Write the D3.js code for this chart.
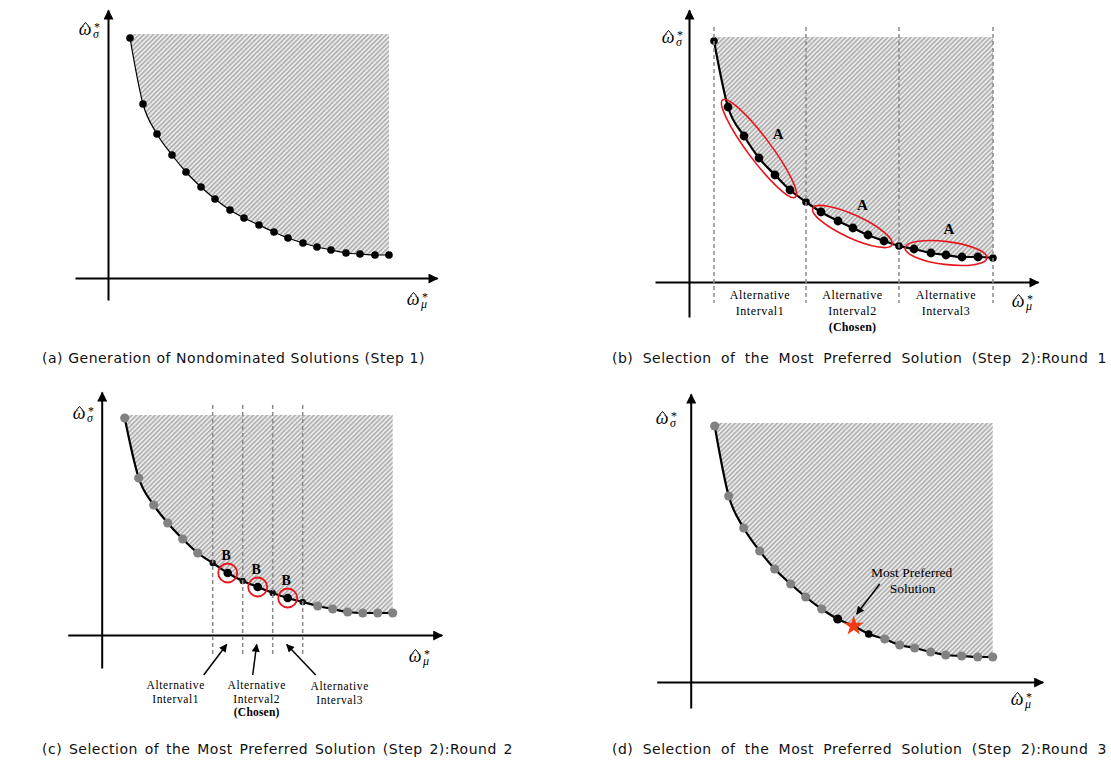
<!DOCTYPE html>
<html>
<head>
<meta charset="utf-8">
<script src="https://cdn.jsdelivr.net/npm/d3@7"></script>
<style>
  body { margin: 0; background: #fff; }
  svg { display: block; }
</style>
</head>
<body>
<div id="chart"></div>
<script>
// nondominated solutions (units from the axis origin)
var muA = [22, 35, 49, 64, 78, 93, 107, 122, 136, 151, 166, 180, 195, 209, 223, 238, 252, 267, 281];
var sigA = [240, 174, 144, 123, 106, 91, 79, 68, 60, 53, 46, 40, 35, 31, 28, 25, 24, 23, 23];

var muB = [25, 39, 55, 70, 86, 101, 117, 132, 149, 164, 179, 195, 210, 225, 242, 257, 273, 289, 304];
var sigB = [241, 175, 146, 124, 107, 92, 80, 70, 61, 54, 47, 41, 36, 33, 29, 27, 25, 25, 24];

var muC = [23, 37, 52, 66, 81, 96, 111, 126, 141, 156, 171, 186, 201, 216, 231, 246, 261, 276, 291];
var sigC = [217, 157, 130, 112, 96, 82, 72, 62, 54, 48, 42, 37, 33, 29, 26, 23, 22, 22, 22];

var muD = [24, 38, 53, 69, 84, 100, 115, 131, 147, 163, 178, 194, 209, 224, 240, 255, 271, 287, 302];
var sigD = [256, 186, 154, 131, 113, 98, 85, 73, 63, 56, 48, 43, 37, 34, 30, 27, 26, 25, 25];

// interval boundaries (point indices) and chosen points
var boundsB = [0, 6, 12, 18];
var groupsB = [[1, 5], [7, 11], [13, 17]];
var boundsC = [6, 8, 10, 12];
var pickedC = [7, 9, 11];
var pickedD = 9;

var intervalNames = ['Interval1', 'Interval2', 'Interval3'];
var chosenInterval = 1;

var captions = [
  '(a) Generation of Nondominated Solutions (Step 1)',
  '(b) Selection of the Most Preferred Solution (Step 2):Round 1',
  '(c) Selection of the Most Preferred Solution (Step 2):Round 2',
  '(d) Selection of the Most Preferred Solution (Step 2):Round 3'
];

var serif = "'Liberation Serif', 'Times New Roman', serif";
var grey = '#828282';
var red = '#e8141b';

var svg = d3.select('#chart').append('svg').attr('width', 1111).attr('height', 762);
var defs = svg.append('defs');

var pat = defs.append('pattern')
  .attr('id', 'hatch')
  .attr('patternUnits', 'userSpaceOnUse')
  .attr('width', 3.3)
  .attr('height', 3.3)
  .attr('patternTransform', 'rotate(45)');
pat.append('rect').attr('width', 3.3).attr('height', 3.3).attr('fill', '#e9e9e9');
pat.append('rect').attr('width', 1.5).attr('height', 3.3).attr('fill', '#adadad');

function marker(id, w, h) {
  defs.append('marker')
    .attr('id', id)
    .attr('viewBox', '0 0 10 10')
    .attr('refX', 9)
    .attr('refY', 5)
    .attr('markerUnits', 'userSpaceOnUse')
    .attr('markerWidth', w)
    .attr('markerHeight', h)
    .attr('orient', 'auto')
    .append('path')
    .attr('d', 'M0,0L10,5L0,10z')
    .attr('fill', '#000');
}
marker('axisHead', 13, 10);
marker('noteHead', 9, 8);

// omega with a drawn hat, subscript and star
function omegaLabel(cx, cy, sub) {
  svg.append('path')
    .attr('d', 'M' + (cx - 7.5) + ',' + (cy - 2) + 'L' + (cx - 4.5) + ',' + (cy - 5.5) + 'L' + (cx - 1.5) + ',' + (cy - 2))
    .attr('fill', 'none')
    .attr('stroke', '#000')
    .attr('stroke-width', 1);
  var t = svg.append('text').attr('font-family', serif);
  t.append('tspan').attr('x', cx - 5).attr('y', cy + 7).attr('text-anchor', 'middle')
    .attr('font-size', 18).attr('font-style', 'italic').text('ω');
  t.append('tspan').attr('x', cx + 3).attr('y', cy + 10).attr('text-anchor', 'start')
    .attr('font-size', 12).attr('font-style', 'italic').text(sub);
  t.append('tspan').attr('x', cx + 4).attr('y', cy + 3).attr('text-anchor', 'start')
    .attr('font-size', 12).text('*');
}

function panel(p, mu, sig) {
  var x = d3.scaleLinear().domain([0, 100]).range([p.ox, p.ox + 100]);
  var y = d3.scaleLinear().domain([0, 100]).range([p.oy, p.oy - 100]);
  var pts = mu.map((m, i) => [m, sig[i]]);
  var g = svg.append('g');

  // dominated region
  g.append('path')
    .attr('d', d3.area()
      .x((d) => x(d[0]))
      .y0(y(p.top))
      .y1((d) => y(d[1]))
      .curve(d3.curveMonotoneX)(pts))
    .attr('fill', 'url(#hatch)');

  // axes, no ticks
  var xs = d3.scaleLinear().domain(p.xr).range(p.xr.map(x));
  var ys = d3.scaleLinear().domain(p.yr).range(p.yr.map(y));
  g.append('g')
    .attr('transform', 'translate(0,' + y(0) + ')')
    .call(d3.axisBottom(xs).tickValues([]).tickSizeOuter(0))
    .select('.domain')
    .attr('stroke-width', 2)
    .attr('marker-end', 'url(#axisHead)');
  g.append('g')
    .attr('transform', 'translate(' + x(0) + ',0)')
    .call(d3.axisLeft(ys).tickValues([]).tickSizeOuter(0))
    .select('.domain')
    .attr('stroke-width', 2)
    .attr('marker-end', 'url(#axisHead)');

  g.append('path')
    .attr('d', d3.line()
      .x((d) => x(d[0]))
      .y((d) => y(d[1]))
      .curve(d3.curveMonotoneX)(pts))
    .attr('fill', 'none')
    .attr('stroke', '#000')
    .attr('stroke-width', p.lw);

  g.selectAll('circle.pt')
    .data(pts)
    .enter()
    .append('circle')
    .attr('class', 'pt')
    .attr('cx', (d) => x(d[0]))
    .attr('cy', (d) => y(d[1]))
    .attr('r', (d, i) => p.dot(i).r)
    .attr('fill', (d, i) => p.dot(i).c)
    .style('display', (d, i) => (p.dot(i).r ? null : 'none'));

  omegaLabel(p.sigLab[0], p.sigLab[1], 'σ');
  omegaLabel(p.muLab[0], p.muLab[1], 'μ');

  return { g: g, x: x, y: y, pts: pts };
}

// (a)
panel({
  ox: 108, oy: 278, top: 244, lw: 1.2,
  xr: [-33, 329], yr: [-22, 268],
  sigLab: [90, 28], muLab: [418, 298],
  dot: () => ({ r: 3.8, c: '#000' })
}, muA, sigA);

// (b)
var pb = panel({
  ox: 689, oy: 282, top: 245, lw: 2.2,
  xr: [-34, 349], yr: [-35, 272],
  sigLab: [673, 36], muLab: [1023, 300],
  dot: (i) => ({ r: boundsB.indexOf(i) >= 0 ? 3.8 : 4.4, c: '#000' })
}, muB, sigB);

boundsB.forEach((b) => {
  pb.g.append('line')
    .attr('x1', pb.x(muB[b])).attr('x2', pb.x(muB[b]))
    .attr('y1', pb.y(255)).attr('y2', pb.y(-21))
    .attr('stroke', '#8a8a8a')
    .attr('stroke-width', 1.5)
    .attr('stroke-dasharray', '4,3');
});

groupsB.forEach((gr) => {
  var a = [pb.x(muB[gr[0]]), pb.y(sigB[gr[0]])];
  var b = [pb.x(muB[gr[1]]), pb.y(sigB[gr[1]])];
  var cx = (a[0] + b[0]) / 2, cy = (a[1] + b[1]) / 2;
  var ang = Math.atan2(b[1] - a[1], b[0] - a[0]);
  var half = Math.hypot(b[0] - a[0], b[1] - a[1]) / 2;
  pb.g.append('ellipse')
    .attr('cx', cx).attr('cy', cy)
    .attr('rx', half + 9).attr('ry', 11.5)
    .attr('transform', 'rotate(' + (ang * 180 / Math.PI) + ',' + cx + ',' + cy + ')')
    .attr('fill', 'none')
    .attr('stroke', red)
    .attr('stroke-width', 1.6);
  pb.g.append('text')
    .attr('x', cx + Math.sin(ang) * 24)
    .attr('y', cy - Math.cos(ang) * 24 + 5)
    .attr('text-anchor', 'middle')
    .attr('font-family', serif)
    .attr('font-weight', 'bold')
    .attr('font-size', 15)
    .text('A');
});

intervalNames.forEach((name, i) => {
  var cx = (pb.x(muB[boundsB[i]]) + pb.x(muB[boundsB[i + 1]])) / 2;
  var t = pb.g.append('text')
    .attr('text-anchor', 'middle')
    .attr('font-family', serif)
    .attr('font-size', 12)
    .attr('letter-spacing', 0.6);
  t.append('tspan').attr('x', cx).attr('y', 299).text('Alternative');
  t.append('tspan').attr('x', cx).attr('y', 315).text(name);
  if (i === chosenInterval) {
    t.append('tspan').attr('x', cx).attr('y', 331)
      .attr('font-weight', 'bold').attr('letter-spacing', 0.2).text('(Chosen)');
  }
});

// (c)
var pc = panel({
  ox: 101.7, oy: 635, top: 220, lw: 2.2,
  xr: [-34, 340], yr: [-33, 243],
  sigLab: [84, 412], muLab: [420, 655],
  dot: (i) => {
    if (boundsC.indexOf(i) >= 0) return { r: 3.2, c: '#111' };
    if (pickedC.indexOf(i) >= 0) return { r: 4.3, c: '#000' };
    return { r: 4.6, c: grey };
  }
}, muC, sigC);

boundsC.forEach((b) => {
  pc.g.append('line')
    .attr('x1', pc.x(muC[b])).attr('x2', pc.x(muC[b]))
    .attr('y1', pc.y(230)).attr('y2', pc.y(-22))
    .attr('stroke', '#8a8a8a')
    .attr('stroke-width', 1.5)
    .attr('stroke-dasharray', '4,3');
});

pickedC.forEach((k) => {
  var cx = pc.x(muC[k]), cy = pc.y(sigC[k]);
  pc.g.append('circle')
    .attr('cx', cx).attr('cy', cy).attr('r', 9.5)
    .attr('fill', 'none').attr('stroke', red).attr('stroke-width', 1.8);
  pc.g.append('text')
    .attr('x', cx - 1.5).attr('y', cy - 13)
    .attr('text-anchor', 'middle')
    .attr('font-family', serif)
    .attr('font-weight', 'bold')
    .attr('font-size', 14)
    .text('B');
});

var tailDx = [-23, -4, 29];
var labDx = [-51, 0, 53];
intervalNames.forEach((name, i) => {
  var tx = (pc.x(muC[boundsC[i]]) + pc.x(muC[boundsC[i + 1]])) / 2 - 1;
  var ty = pc.y(-9.5);
  pc.g.append('line')
    .attr('x1', tx + tailDx[i]).attr('y1', pc.y(-40))
    .attr('x2', tx).attr('y2', ty)
    .attr('stroke', '#000')
    .attr('stroke-width', 1.5)
    .attr('marker-end', 'url(#noteHead)');
  var t = pc.g.append('text')
    .attr('text-anchor', 'middle')
    .attr('font-family', serif)
    .attr('font-size', 11.5)
    .attr('letter-spacing', 0.6);
  var lx = tx + labDx[i];
  var ly = i === 2 ? 690 : 689;
  t.append('tspan').attr('x', lx).attr('y', ly).text('Alternative');
  t.append('tspan').attr('x', lx).attr('y', ly + 13.5).text(name);
  if (i === chosenInterval) {
    t.append('tspan').attr('x', lx).attr('y', ly + 27)
      .attr('font-weight', 'bold').attr('letter-spacing', 0.2).text('(Chosen)');
  }
});

// (d)
var pd = panel({
  ox: 690.7, oy: 682, top: 259, lw: 2.2,
  xr: [-34, 352], yr: [-26, 288],
  sigLab: [667, 417], muLab: [1022, 698],
  dot: (i) => {
    if (i === pickedD) return { r: 0, c: 'none' };
    if (i === pickedD - 1) return { r: 4.5, c: '#000' };
    if (i === pickedD + 1) return { r: 3.8, c: '#000' };
    return { r: 4.6, c: grey };
  }
}, muD, sigD);

var sx = pd.x(muD[pickedD]), sy = pd.y(sigD[pickedD]);
pd.g.append('path')
  .attr('d', d3.symbol(d3.symbolStar).size(125)())
  .attr('transform', 'translate(' + sx + ',' + sy + ')')
  .attr('fill', '#f43a12');
pd.g.append('line')
  .attr('x1', sx + 26).attr('y1', sy - 42)
  .attr('x2', sx + 3).attr('y2', sy - 12)
  .attr('stroke', '#000')
  .attr('stroke-width', 1.5)
  .attr('marker-end', 'url(#noteHead)');
var note = pd.g.append('text')
  .attr('text-anchor', 'middle')
  .attr('font-family', serif)
  .attr('font-size', 13.5);
note.append('tspan').attr('x', sx + 58).attr('y', sy - 49).text('Most Preferred');
note.append('tspan').attr('x', sx + 59).attr('y', sy - 33).text('Solution');

// captions: wide sans face, leftover width goes between words
var capPos = [[42, 363, 383], [612, 363, 495], [42, 754, 471], [612, 754, 495]];
captions.forEach((c, i) => {
  var t = svg.append('text')
    .attr('x', capPos[i][0])
    .attr('y', capPos[i][1])
    .attr('font-family', "'DejaVu Sans', sans-serif")
    .attr('font-size', 14)
    .attr('letter-spacing', 0.5)
    .attr('fill', '#111')
    .text(c);
  var gaps = c.split(' ').length - 1;
  var extra = capPos[i][2] - t.node().getComputedTextLength();
  if (extra > 0) {
    t.attr('word-spacing', extra / gaps);
  } else {
    t.attr('textLength', capPos[i][2]).attr('lengthAdjust', 'spacingAndGlyphs');
  }
});
</script>
</body>
</html>
